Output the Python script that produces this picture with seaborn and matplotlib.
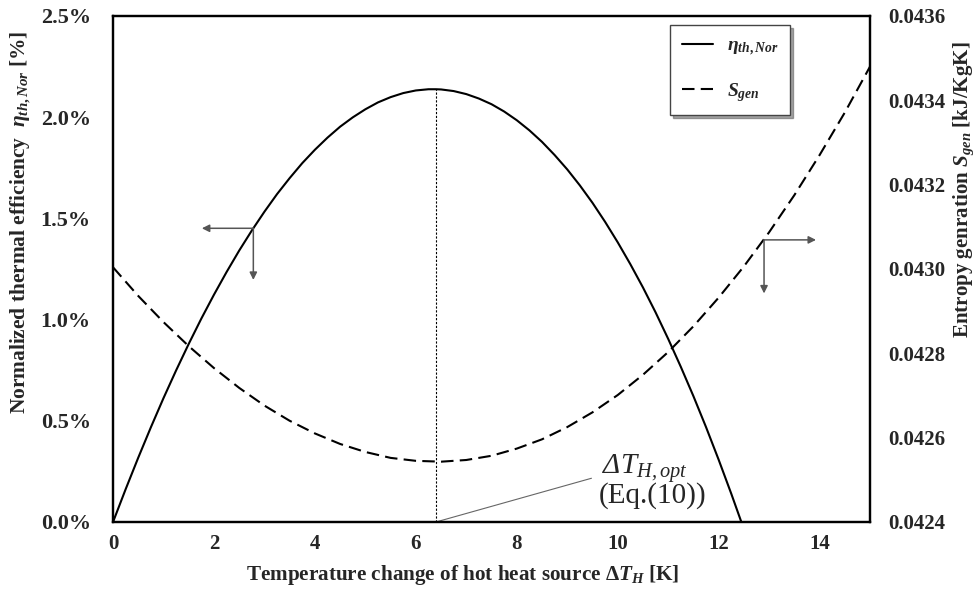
import matplotlib
matplotlib.use("Agg")
import matplotlib.pyplot as plt
import seaborn as sns
import numpy as np
import pandas as pd
from matplotlib.ticker import FuncFormatter, FormatStrFormatter, MultipleLocator

# ---------------- data ----------------
x_eta = [0, 0.25, 0.5, 0.75, 1, 1.25, 1.5, 1.75, 2, 2.25, 2.5, 2.75, 3, 3.25,
         3.5, 3.75, 4, 4.25, 4.5, 4.75, 5, 5.25, 5.5, 5.75, 6, 6.25, 6.4, 6.5,
         6.75, 7, 7.25, 7.5, 7.75, 8, 8.25, 8.5, 8.75, 9, 9.25, 9.5, 9.75, 10,
         10.25, 10.5, 10.75, 11, 11.25, 11.5, 11.75, 12, 12.25, 12.45]
eta_nor = [0.0, 0.162, 0.318, 0.468, 0.612, 0.749, 0.880, 1.005, 1.123, 1.235,
           1.341, 1.440, 1.533, 1.620, 1.699, 1.773, 1.839, 1.899, 1.953, 1.999,
           2.039, 2.073, 2.099, 2.119, 2.132, 2.138, 2.138, 2.137, 2.129, 2.114,
           2.092, 2.064, 2.028, 1.985, 1.935, 1.878, 1.813, 1.742, 1.663, 1.577,
           1.483, 1.382, 1.274, 1.159, 1.036, 0.905, 0.767, 0.622, 0.469, 0.308,
           0.140, 0.0]                                              # [%]

x_s = [0, 0.5, 1, 1.5, 2, 2.5, 3, 3.5, 4, 4.5, 5, 5.5, 6, 6.5, 7, 7.5, 8, 8.5,
       9, 9.5, 10, 10.5, 11, 11.5, 12, 12.5, 13, 13.5, 14, 14.5, 15]
s_gen = [0.043004, 0.042936, 0.042874, 0.042817, 0.042765, 0.042718, 0.042676,
         0.042640, 0.042610, 0.042585, 0.042566, 0.042552, 0.042545, 0.042543,
         0.042547, 0.042557, 0.042574, 0.042596, 0.042625, 0.042660, 0.042701,
         0.042749, 0.042803, 0.042864, 0.042932, 0.043006, 0.043087, 0.043175,
         0.043270, 0.043371, 0.043480]                              # [kJ/KgK]

dT_opt = 6.4
eta_opt = 2.138

x_ticks = [0, 2, 4, 6, 8, 10, 12, 14]

# ---------------- style ----------------
sns.set_theme(style="white")
plt.rcParams["font.family"] = ["Liberation Serif", "DejaVu Serif"]
plt.rcParams["font.weight"] = "bold"
plt.rcParams["mathtext.fontset"] = "custom"
plt.rcParams["mathtext.rm"] = "Liberation Serif:bold"
plt.rcParams["mathtext.it"] = "Liberation Serif:italic:bold"
plt.rcParams["mathtext.bf"] = "Liberation Serif:bold"
plt.rcParams["mathtext.sf"] = "Liberation Serif:style=italic:weight=regular"

fig = plt.figure(figsize=(9.77, 5.96), dpi=100)
ax = fig.add_axes([0.1157, 0.1242, 0.7748, 0.849])
ax2 = ax.twinx()

df_eta = pd.DataFrame({"x": x_eta, "eta": eta_nor})
df_s = pd.DataFrame({"x": x_s, "s": s_gen})

sns.lineplot(data=df_eta, x="x", y="eta", ax=ax, color="black", lw=1.5)
sns.lineplot(data=df_s, x="x", y="s", ax=ax2, color="black", lw=1.5,
             linestyle=(0, (6, 3)))

# optimum marker line
ax.plot([dT_opt, dT_opt], [0, eta_opt], color="black", lw=0.8,
        linestyle=(0, (2, 1.5)))

# axes ranges / ticks
ax.set_xlim(0, 15)
ax.set_ylim(0, 2.5)
ax2.set_ylim(0.0424, 0.0436)
ax.set_xticks(x_ticks)
ax.yaxis.set_major_locator(MultipleLocator(0.5))
ax.yaxis.set_major_formatter(FuncFormatter(lambda v, p: f"{v:.1f}%"))
ax2.yaxis.set_major_locator(MultipleLocator(0.0002))
ax2.yaxis.set_major_formatter(FormatStrFormatter("%.4f"))

for a in (ax, ax2):
    a.tick_params(axis="both", length=0, labelsize=15)
    for sp in a.spines.values():
        sp.set_color("black")
        sp.set_linewidth(1.6)
    a.grid(False)
ax.tick_params(axis="x", pad=9)
ax.tick_params(axis="y", pad=16, labelsize=16)
ax2.tick_params(axis="y", pad=13)
for lab in ax.get_xticklabels() + ax.get_yticklabels() + ax2.get_yticklabels():
    lab.set_fontweight("bold")

ax.set_xlabel(r"Temperature change of hot heat source $\mathit{ΔT_H}$ [K]",
              fontsize=15.2, fontweight="bold")
ax.xaxis.set_label_coords(0.462, -0.082)
ax.set_ylabel(r"Normalized thermal efficiency  $\eta_{th,Nor}$ [%]",
              fontsize=15.4, fontweight="bold")
ax.yaxis.set_label_coords(-0.106, 0.593)
ax2.set_ylabel(r"Entropy genration $S_{gen}$ [kJ/KgK]",
               fontsize=15.1, fontweight="bold")
ax2.yaxis.set_label_coords(1.108, 0.656)

# direction arrows
arr = dict(arrowstyle="-|>", color="#555555", lw=1.1, mutation_scale=11,
           shrinkA=0, shrinkB=0)
ax.annotate("", xy=(1.76, 1.451), xytext=(2.78, 1.451), arrowprops=arr)
ax.annotate("", xy=(2.78, 1.196), xytext=(2.78, 1.451), arrowprops=arr)
ax2.annotate("", xy=(13.93, 0.043069), xytext=(12.90, 0.043069), arrowprops=arr)
ax2.annotate("", xy=(12.90, 0.042942), xytext=(12.90, 0.043069), arrowprops=arr)

# optimum annotation
ax.plot([dT_opt, 9.48], [0, 0.216], color="#666666", lw=0.8)
ax.text(9.68, 0.240, r"$\mathsf{ΔT}_{\mathsf{H,opt}}$", fontsize=21,
        fontweight="normal", ha="left", va="baseline")
ax.text(9.63, 0.196, "(Eq.(10))", fontsize=21, fontweight="normal",
        ha="left", va="top", family="Liberation Serif")

# legend
h1 = ax.lines[0]
h2 = ax2.lines[0]
leg = ax.legend([h1, h2], [r"$\eta_{th,Nor}$", r"$S_{gen}$"],
                loc="upper left", bbox_to_anchor=(0.736, 0.982),
                fontsize=14, frameon=True, fancybox=False, shadow=True,
                handlelength=1.6, borderpad=0.6, labelspacing=1.2,
                handletextpad=0.7, borderaxespad=0)
leg.get_frame().set_edgecolor("#444444")
leg.get_frame().set_linewidth(1.0)

fig.savefig("out.png", dpi=100)
